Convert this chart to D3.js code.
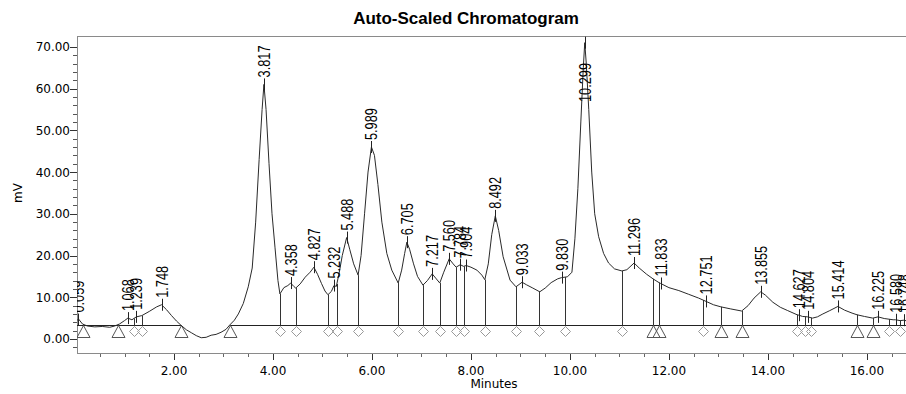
<!DOCTYPE html>
<html>
<head>
<meta charset="utf-8">
<script src="https://cdn.jsdelivr.net/npm/d3@7"></script>
<style>
  body { margin: 0; background: #fff; }
  svg { display: block; }
</style>
</head>
<body>
<div id="chart"></div>
<script>
// detector trace (minutes, mV)
const times = [0.04, 0.07, 0.15, 0.25, 0.40, 0.55, 0.70, 0.80, 0.90, 1.00, 1.068, 1.15, 1.239, 1.35, 1.50, 1.65, 1.748, 1.85, 1.95, 2.05, 2.14,
  2.25, 2.35, 2.45, 2.55, 2.65, 2.75, 2.85, 2.95, 3.05, 3.13, 3.22, 3.30, 3.40, 3.50, 3.58, 3.65, 3.72, 3.78, 3.817, 3.86, 3.92, 3.98,
  4.04, 4.10, 4.14, 4.22, 4.30, 4.358, 4.42, 4.46, 4.55, 4.65, 4.75, 4.827, 4.90, 4.98, 5.05, 5.11, 5.18, 5.232, 5.28, 5.34, 5.40, 5.488,
  5.55, 5.63, 5.72, 5.78, 5.85, 5.92, 5.989, 6.05, 6.12, 6.20, 6.30, 6.40, 6.53, 6.60, 6.66, 6.705, 6.76, 6.84, 6.92, 7.03, 7.12, 7.217,
  7.30, 7.37, 7.45, 7.56, 7.64, 7.70, 7.784, 7.85, 7.904, 8.00, 8.12, 8.22, 8.28, 8.35, 8.42, 8.492, 8.56, 8.65, 8.79, 8.91, 9.033, 9.12,
  9.25, 9.39, 9.50, 9.62, 9.75, 9.83, 9.95, 10.04, 10.10, 10.16, 10.22, 10.27, 10.299, 10.33, 10.38, 10.44, 10.50, 10.58, 10.68, 10.78,
  10.90, 11.05, 11.15, 11.296, 11.40, 11.55, 11.68, 11.80, 11.833, 12.00, 12.20, 12.40, 12.60, 12.751, 12.90, 13.05, 13.25, 13.47, 13.60,
  13.72, 13.855, 13.95, 14.10, 14.25, 14.40, 14.59, 14.627, 14.70, 14.804, 14.90, 15.00, 15.11, 15.25, 15.414, 15.55, 15.70, 15.80, 15.95,
  16.12, 16.225, 16.35, 16.53, 16.58, 16.67, 16.748, 16.85];
const signal = [4.4, 4.8, 3.6, 3.1, 2.9, 3.0, 2.8, 3.1, 3.6, 4.4, 5.0, 4.6, 5.3, 5.6, 6.6, 7.7, 8.2, 7.0, 5.6, 4.3, 3.3,
  2.2, 1.5, 0.8, 0.3, 0.4, 0.9, 1.1, 1.6, 2.3, 3.4, 4.5, 6.0, 8.5, 12.5, 17, 28, 43, 55, 61, 55, 42, 30,
  22, 14, 10.8, 12.3, 12.8, 13.4, 12.6, 12.2, 13.2, 14.8, 16.0, 17.2, 15.5, 13.3, 11.5, 10.6, 11.4, 12.8, 12.6, 16, 20, 24.3,
  21.5, 18, 15.3, 20, 30, 40, 46, 44, 37, 28, 20.5, 16.5, 13.4, 16.5, 20.5, 23.2, 21.5, 18, 15, 12.9, 14.0, 15.6,
  14.4, 13.4, 16, 19.2, 18.0, 17.2, 17.8, 17.4, 17.6, 17.2, 16.5, 15.3, 14.2, 18, 25, 29.5, 26, 19.7, 14.1, 12.5, 13.6, 13.0,
  12.2, 11.3, 12.2, 13.5, 14.4, 14.7, 14.9, 16, 24, 36, 52, 65, 71, 66, 55, 40, 30, 24.5, 20.5, 18.2,
  16.8, 16.3, 16.6, 18.2, 17.0, 15.5, 14.4, 13.5, 13.3, 12.3, 11.6, 10.7, 9.8, 9.0, 8.2, 7.7, 7.2, 6.7, 8.0,
  9.8, 11.3, 10.5, 8.8, 7.6, 6.8, 5.8, 5.7, 5.4, 5.3, 5.0, 5.3, 6.0, 6.8, 7.8, 6.9, 6.2, 5.8, 5.4,
  5.0, 5.3, 4.9, 4.6, 4.6, 4.4, 4.5, 4.2];

// retention times printed over the peaks
const peakTimes = [0.059, 1.068, 1.239, 1.748, 3.817, 4.358, 4.827, 5.232, 5.488, 5.989, 6.705, 7.217, 7.560, 7.784, 7.904,
  8.492, 9.033, 9.830, 10.299, 11.296, 11.833, 12.751, 13.855, 14.627, 14.804, 15.414, 16.225, 16.580, 16.748];

// integration marks: drop lines ending in a triangle (T) or a diamond (D)
const dropTimes = [0.16, 0.87, 1.19, 1.35, 2.14, 3.13, 4.14, 4.46, 5.11, 5.29, 5.72, 6.53, 7.03, 7.37, 7.70, 7.85, 8.28, 8.91,
  9.37, 9.90, 11.05, 11.68, 11.80, 12.69, 13.05, 13.47, 14.59, 14.75, 14.88, 15.80, 16.12, 16.45, 16.67];
const dropKinds = ['T', 'T', 'D', 'D', 'T', 'T', 'D', 'D', 'D', 'D', 'D', 'D', 'D', 'D', 'D', 'D', 'D', 'D',
  'D', 'D', 'D', 'T', 'T', 'D', 'T', 'T', 'D', 'D', 'D', 'T', 'T', 'D', 'D'];

const baselineLevel = 3.4;
const baselineSpans = [[0.04, 2.14], [3.13, 16.85]];

const xMajor = [2, 4, 6, 8, 10, 12, 14, 16];
const yMajor = [0, 10, 20, 30, 40, 50, 60, 70];

const W = 906, H = 394;
const plotL = 77, plotR = 906, plotT = 36, plotB = 353;

const svg = d3.select('#chart').append('svg')
  .attr('width', W)
  .attr('height', H)
  .style('font-family', '"DejaVu Sans", sans-serif');

const x = d3.scaleLinear().domain([0.04, 16.79]).range([plotL, plotR]);
const y = d3.scaleLinear().domain([-3.36, 72.6]).range([plotB, plotT]);

svg.append('defs').append('clipPath').attr('id', 'plot')
  .append('rect').attr('x', plotL).attr('y', plotT).attr('width', plotR - plotL).attr('height', bottomH());

function bottomH() { return plotB - plotT; }

// title
svg.append('text')
  .attr('x', 466).attr('y', 24)
  .attr('text-anchor', 'middle')
  .style('font-family', '"Liberation Sans", Arial, sans-serif')
  .style('font-weight', 'bold')
  .style('font-size', '17px')
  .text('Auto-Scaled Chromatogram');

// frame
svg.append('rect')
  .attr('x', plotL + 0.5).attr('y', plotT + 0.5)
  .attr('width', plotR - plotL).attr('height', plotB - plotT)
  .attr('fill', 'none').attr('stroke', '#8a8a8a');

// y axis
const yAxis = svg.append('g').attr('transform', `translate(${plotL},0)`);
yAxis.selectAll('.minor').data(d3.range(-2, 72, 2)).enter().append('line')
  .attr('x1', -4).attr('x2', 0)
  .attr('y1', d => Math.round(y(d)) + 0.5).attr('y2', d => Math.round(y(d)) + 0.5)
  .attr('stroke', '#555');
yAxis.selectAll('.major').data(yMajor).enter().append('line')
  .attr('x1', -7).attr('x2', 0)
  .attr('y1', d => Math.round(y(d)) + 0.5).attr('y2', d => Math.round(y(d)) + 0.5)
  .attr('stroke', '#333');
yAxis.selectAll('text').data(yMajor).enter().append('text')
  .attr('x', -7).attr('y', d => y(d) + 4.5)
  .attr('text-anchor', 'end')
  .style('font-size', '12px')
  .text(d3.format('.2f'));

svg.append('text')
  .attr('transform', 'translate(22,193) rotate(-90)')
  .attr('text-anchor', 'middle')
  .style('font-size', '12px')
  .text('mV');

// x axis
const xAxis = svg.append('g').attr('transform', `translate(0,${plotB})`);
xAxis.selectAll('.minor').data(d3.range(0.5, 16.8, 0.5)).enter().append('line')
  .attr('x1', d => Math.round(x(d)) + 0.5).attr('x2', d => Math.round(x(d)) + 0.5)
  .attr('y1', 1).attr('y2', 4)
  .attr('stroke', '#666');
xAxis.selectAll('.major').data(xMajor).enter().append('line')
  .attr('x1', d => Math.round(x(d)) + 0.5).attr('x2', d => Math.round(x(d)) + 0.5)
  .attr('y1', 1).attr('y2', 7)
  .attr('stroke', '#333');
xAxis.selectAll('text').data(xMajor).enter().append('text')
  .attr('x', d => x(d)).attr('y', 22)
  .attr('text-anchor', 'middle')
  .style('font-size', '12px')
  .text(d3.format('.2f'));

svg.append('text')
  .attr('x', 494).attr('y', 388)
  .attr('text-anchor', 'middle')
  .style('font-size', '12px')
  .text('Minutes');

// linear read of the trace at any time
const valueAt = t => {
  const i = d3.bisectLeft(times, t);
  if (i <= 0) return signal[0];
  if (i >= times.length) return signal[signal.length - 1];
  const t0 = times[i - 1], t1 = times[i];
  const k = (t - t0) / (t1 - t0);
  return signal[i - 1] + k * (signal[i] - signal[i - 1]);
};

const plot = svg.append('g').attr('clip-path', 'url(#plot)');
const by = Math.round(y(baselineLevel)) + 0.5;

// integration baseline
plot.selectAll('.baseline').data(baselineSpans).enter().append('line')
  .attr('x1', d => x(d[0])).attr('x2', d => x(d[1]))
  .attr('y1', by).attr('y2', by)
  .attr('stroke', '#222');

// drop lines and markers
dropTimes.forEach((t, i) => {
  const px = Math.round(x(t)) + 0.5;
  plot.append('line')
    .attr('x1', px).attr('x2', px)
    .attr('y1', y(valueAt(t))).attr('y2', by)
    .attr('stroke', '#333');
  if (dropKinds[i] === 'T') {
    plot.append('path')
      .attr('d', `M${px},${by}L${px - 6.5},${by + 12}L${px + 6.5},${by + 12}Z`)
      .attr('fill', 'none').attr('stroke', '#555');
  } else {
    plot.append('path')
      .attr('d', `M${px},${by + 1}L${px + 5},${by + 6}L${px},${by + 11}L${px - 5},${by + 6}Z`)
      .attr('fill', 'none').attr('stroke', '#999');
  }
});

// trace
const line = d3.line().x((d, i) => x(times[i])).y(d => y(d));
plot.append('path')
  .datum(signal)
  .attr('d', line)
  .attr('fill', 'none')
  .attr('stroke', '#2a2a2a')
  .attr('stroke-width', 1);

// peak labels
const fmt = d3.format('.3f');
peakTimes.forEach(t => {
  const px = x(t);
  const py = y(valueAt(t));
  plot.append('line')
    .attr('x1', Math.round(px) + 0.5).attr('x2', Math.round(px) + 0.5)
    .attr('y1', py - 6).attr('y2', py + 6)
    .attr('stroke', '#222');
  const txt = fmt(t);
  const len = txt.length * 6.6;
  let ly = py - 7;
  if (ly - len < plotT + 4) ly = plotT + 66;
  plot.append('text')
    .attr('transform', `translate(${px + 6},${ly}) rotate(-90) scale(0.75,1)`)
    .attr('text-anchor', 'start')
    .style('font-family', '"Liberation Sans", Arial, sans-serif')
    .style('font-size', '17px')
    .text(txt);
});
</script>
</body>
</html>
